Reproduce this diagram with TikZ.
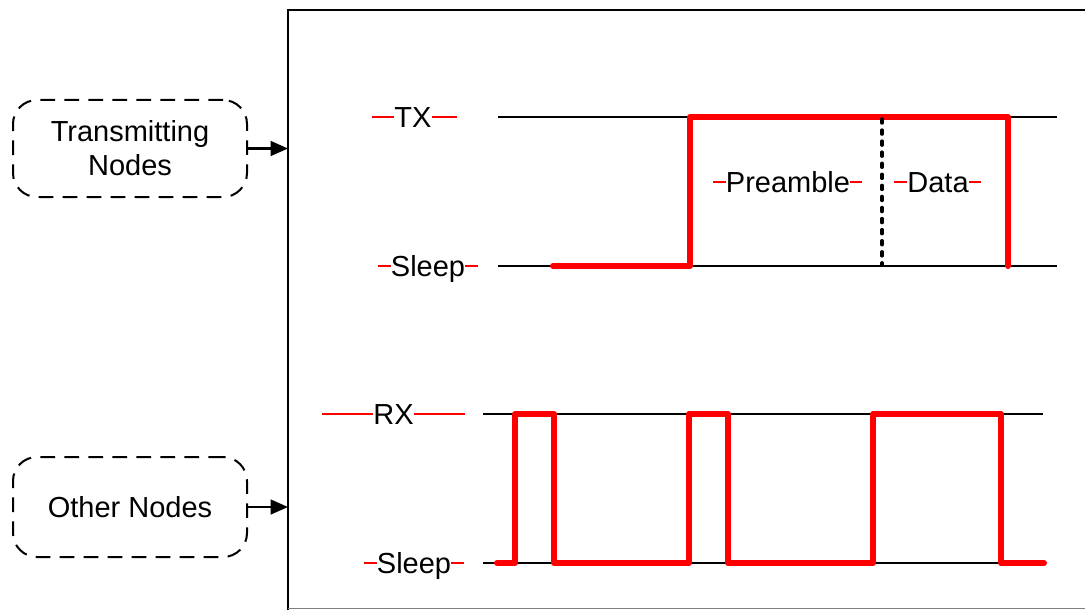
\documentclass[tikz,border=0pt]{standalone}
\usepackage{fontspec}
\setmainfont{Liberation Sans}
\usetikzlibrary{arrows.meta}
\begin{document}
\begin{tikzpicture}[x=0.75pt,y=-0.75pt,
  every node/.style={font=\fontsize{21.75}{25.5}\selectfont},
  nodebox/.style={draw, line width=1.5pt, dash pattern=on 11pt off 7pt, rounded corners=18pt, minimum width=175.5pt, align=center, inner sep=0pt},
  lvl/.style={inner sep=0pt, text height=15.6pt, text depth=0pt},
  rdash/.style={draw=red, line width=1.6pt},
  axis/.style={draw=black, line width=1.5pt},
  trace/.style={draw=red, line width=4.5pt, line join=round, line cap=round},
  dotln/.style={draw=black, line width=2.6pt, line cap=round, dash pattern=on 3pt off 5.3pt},
  arr/.style={draw=black, line width=1.7pt, -{Triangle[length=13pt,width=11pt]}},
]
\useasboundingbox (0,0) rectangle (1085,610);
% frame
\draw[line width=2pt] (288,612) -- (288,10) -- (1086,10);
\draw[gray, line width=1pt] (288,608.7) -- (1085,608.7);
\coordinate (fl) at (288,0);

% left boxes
\node[nodebox, minimum height=72.75pt] (tn) at (130,148.5) {Transmitting\\Nodes};
\node[nodebox, minimum height=75pt] (on) at (130,507) {Other Nodes};
\draw[arr] (tn.east) -- (tn.east -| fl);
\draw[arr] (on.east) -- (on.east -| fl);

% axis lines
\draw[axis] (498,117) -- (1057,117);
\draw[axis] (498,266) -- (1057,266);
\draw[axis] (483,414) -- (1043,414);
\draw[axis] (483,563) -- (1043,563);

% level labels
\node[lvl] (tx) at (413,117) {TX};
\draw[rdash] (tx.west) -- ++(-22,0);
\draw[rdash] (tx.east) -- ++(25,0);
\node[lvl] (sl1) at (428,266) {Sleep};
\draw[rdash] (sl1.west) -- ++(-13,0);
\draw[rdash] (sl1.east) -- ++(13,0);
\node[lvl] (rx) at (393.5,414) {RX};
\draw[rdash] (rx.west) -- ++(-51,0);
\draw[rdash] (rx.east) -- ++(51,0);
\node[lvl] (sl2) at (414,563) {Sleep};
\draw[rdash] (sl2.west) -- ++(-13,0);
\draw[rdash] (sl2.east) -- ++(13,0);
\node[lvl] (pre) at (788,182) {Preamble};
\draw[rdash] (pre.west) -- ++(-13,0);
\draw[rdash] (pre.east) -- ++(12,0);
\node[lvl] (dat) at (938,182) {Data};
\draw[rdash] (dat.west) -- ++(-13,0);
\draw[rdash] (dat.east) -- ++(12,0);

% traces
\draw[trace] (553,266) -- (690,266) -- (690,117) -- (1008,117) -- (1008,266);
\draw[trace] (497,563) -- (515,563) -- (515,414) -- (554,414) -- (554,563)
  -- (689,563) -- (689,414) -- (728,414) -- (728,563) -- (873,563)
  -- (873,414) -- (1001,414) -- (1001,563) -- (1044,563);
\draw[dotln] (882,119) -- (882,265);
\end{tikzpicture}
\end{document}
